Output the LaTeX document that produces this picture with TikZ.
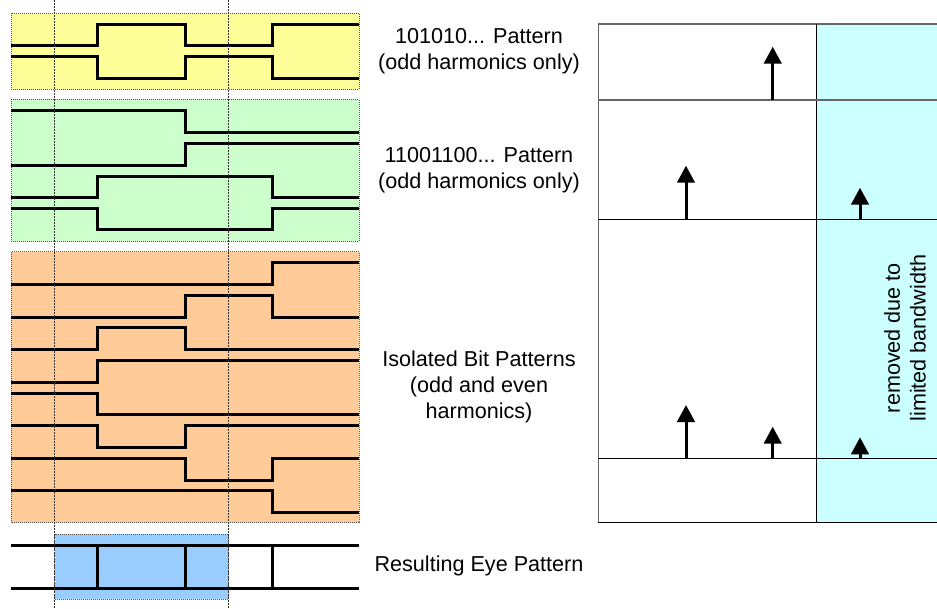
\documentclass[tikz,border=0pt]{standalone}
\usepackage{fontspec}
\setmainfont{Liberation Sans}
\usetikzlibrary{arrows.meta}
\definecolor{cyel}{HTML}{FFFF99}
\definecolor{cgrn}{HTML}{CCFFCC}
\definecolor{corg}{HTML}{FFCC99}
\definecolor{cblu}{HTML}{99CCFF}
\definecolor{ccyn}{HTML}{CCFFFF}
\definecolor{cbord}{HTML}{555555}
\tikzset{
  panelbox/.style={draw=cbord, line width=0.8pt, dash pattern=on 1pt off 1pt},
  wave/.style={line width=3pt, line join=miter, line cap=butt},
  guide/.style={line width=0.8pt, dash pattern=on 1.5pt off 1.5pt, black!80},
  lbl/.style={font=\fontsize{21.6}{25.8}\selectfont, align=center, inner sep=0pt},
  spec/.style={line width=3pt, -{Triangle[width=17.5pt,length=17pt]}},
  grid/.style={line width=1pt, black}
}
\begin{document}
\begin{tikzpicture}[x=1pt,y=-1pt]
\useasboundingbox (0,0) rectangle (937,608);
\begin{scope}
\clip (0,0) rectangle (937,608);
% ---- left panels
\fill[cyel] (11,13) rectangle (359,89);
\draw[panelbox] (11,13) rectangle (359,89);
\fill[cgrn] (11,99.3) rectangle (359,241);
\draw[panelbox] (11,99.3) rectangle (359,241);
\fill[corg] (11,251.7) rectangle (359,522.7);
\draw[panelbox] (11,251.7) rectangle (359,522.7);
\fill[cblu] (54.5,534) rectangle (228.7,599.3);
\draw[panelbox] (54.5,534) rectangle (228.7,599.3);
% yellow waves
\draw[wave] (11,45.3) -- (97,45.3) -- (97,24.3) -- (185,24.3) -- (185,45.3) -- (272,45.3) -- (272,24.3) -- (359,24.3);
\draw[wave] (11,56.7) -- (97,56.7) -- (97,78) -- (185,78) -- (185,56.7) -- (272,56.7) -- (272,78) -- (359,78);
% green waves
\draw[wave] (11,110.7) -- (185,110.7) -- (185,132.3) -- (359,132.3);
\draw[wave] (11,165) -- (185,165) -- (185,143.3) -- (359,143.3);
\draw[wave] (11,197.7) -- (97,197.7) -- (97,176.7) -- (272,176.7) -- (272,197.7) -- (359,197.7);
\draw[wave] (11,208.3) -- (97,208.3) -- (97,229.3) -- (272,229.3) -- (272,208.3) -- (359,208.3);
% orange waves
\draw[wave] (11,284) -- (272,284) -- (272,262.7) -- (359,262.7);
\draw[wave] (11,317) -- (185,317) -- (185,295) -- (272,295) -- (272,317) -- (359,317);
\draw[wave] (11,349.3) -- (97,349.3) -- (97,327.7) -- (185,327.7) -- (185,349.3) -- (359,349.3);
\draw[wave] (11,382.3) -- (97,382.3) -- (97,360) -- (359,360);
\draw[wave] (11,393) -- (97,393) -- (97,414.3) -- (359,414.3);
\draw[wave] (11,425.3) -- (97,425.3) -- (97,447.3) -- (185,447.3) -- (185,425.3) -- (359,425.3);
\draw[wave] (11,458.3) -- (185,458.3) -- (185,480) -- (272,480) -- (272,458.3) -- (359,458.3);
\draw[wave] (11,490.7) -- (272,490.7) -- (272,512.3) -- (359,512.3);
% eye
\draw[wave] (11,545) -- (359,545);
\draw[wave] (11,588.3) -- (359,588.3);
\draw[wave] (97,545) -- (97,588.3);
\draw[wave] (185,545) -- (185,588.3);
\draw[wave] (272,545) -- (272,588.3);
% guides
\draw[guide] (54.5,0) -- (54.5,608);
\draw[guide] (228.7,0) -- (228.7,608);
% ---- right spectrum
\fill[ccyn] (816.7,24) rectangle (950,522.7);
\draw[line width=1.5pt, black!60] (598.3,24) -- (950,24);
\draw[line width=1.2pt, black!60] (598.3,24) -- (598.3,522.7);
\draw[grid] (598.3,522.7) -- (950,522.7);
\draw[grid] (816.7,24) -- (816.7,522.7);
\draw[line width=1.2pt, black!60] (598.3,100) -- (950,100);
\draw[grid] (598.3,219.3) -- (950,219.3);
\draw[grid] (598.3,458.3) -- (950,458.3);
\coordinate (a1) at (772.7,100);
\coordinate (a2) at (686,219.3);
\coordinate (a3) at (860,219.3);
\coordinate (a4) at (686,458.3);
\coordinate (a5) at (772.7,458.3);
\coordinate (a6) at (860,458.3);
\draw[spec] (a1) -- (772.7,46.7);
\draw[spec] (a2) -- (686,165.7);
\draw[spec] (a3) -- (860,187.7);
\draw[spec] (a4) -- (686,405);
\draw[spec] (a5) -- (772.7,426.7);
\draw[spec] (a6) -- (860,437.3);
\end{scope}
% ---- labels
\node[lbl] (t1) at (479,51.5) {101010... Pattern\\(odd harmonics only)};
\node[lbl] (t2) at (479,170) {11001100... Pattern\\(odd harmonics only)};
\node[lbl] (t3) at (479,387) {Isolated Bit Patterns\\(odd and even\\harmonics)};
\node[lbl] (t4) at (479,566) {Resulting Eye Pattern};
\node[lbl, rotate=90] (t5) at (905,338) {removed due to\\limited bandwidth};
\end{tikzpicture}
\end{document}
